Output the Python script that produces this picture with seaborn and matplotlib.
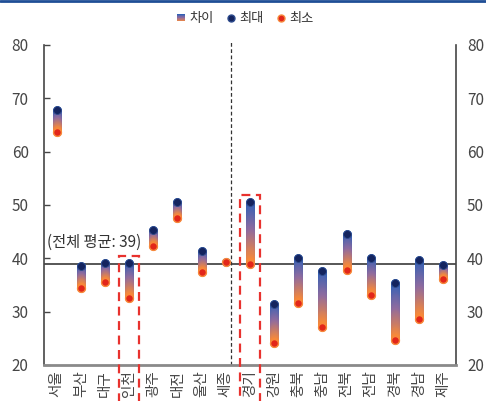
import numpy as np
import pandas as pd
import seaborn as sns
import matplotlib
matplotlib.use("Agg")
import matplotlib.pyplot as plt
from matplotlib.collections import LineCollection
from matplotlib.colors import LinearSegmentedColormap
from matplotlib.patches import Rectangle
from matplotlib.legend_handler import HandlerBase
from matplotlib.lines import Line2D

# 시도별 최대/최소값
regions = ['서울', '부산', '대구', '인천', '광주', '대전', '울산', '세종', '경기',
           '강원', '충북', '충남', '전북', '전남', '경북', '경남', '제주']
max_vals = [67.8, 38.5, 39.2, 39.1, 45.4, 50.5, 41.3, 39.3, 50.5,
            31.4, 40.1, 37.6, 44.5, 40.0, 35.3, 39.6, 38.8]
min_vals = [63.7, 34.5, 35.5, 32.6, 42.3, 47.5, 37.4, 39.3, 39.0,
            24.1, 31.6, 27.2, 37.8, 33.1, 24.7, 28.6, 36.1]
national_mean = 39
highlighted = ['인천', '경기']
y_ticks = [20, 30, 40, 50, 60, 70, 80]

df = pd.DataFrame({'지역': regions, '최대': max_vals, '최소': min_vals})

sns.set_theme(style='white')
plt.rcParams['font.family'] = ['Noto Sans CJK KR', 'DejaVu Sans']

TEXT = '#454545'
grad = LinearSegmentedColormap.from_list('gap', ['#2a60b8', '#8f6b9f', '#f98a38'])

fig = plt.figure(figsize=(4.86, 4.01), dpi=100)
ax = fig.add_axes([0.0905, 0.0898, 0.8475, 0.798])

# 기준선(전체 평균)
ax.axhline(national_mean, color='#3a3a3a', lw=1.2, zorder=1)

# 최대~최소 구간: 위는 파랑, 아래는 주황으로 변하는 막대
segs, cols = [], []
n = 60
for i, (hi, lo) in enumerate(zip(df['최대'], df['최소'])):
    if hi == lo:
        continue
    ys = np.linspace(hi, lo, n + 1)
    for k in range(n):
        segs.append([(i, ys[k]), (i, ys[k + 1])])
        cols.append(grad(k / (n - 1)))
lc = LineCollection(segs, colors=cols, linewidths=6.4, capstyle='round', zorder=2)
ax.add_collection(lc)

# 최대/최소 점
sns.scatterplot(data=df, x='지역', y='최대', ax=ax, color='#14245f', s=32,
                edgecolor='#2c4a8c', linewidth=0.6, zorder=4, legend=False)
sns.scatterplot(data=df, x='지역', y='최소', ax=ax, color='#e2261a', s=32,
                edgecolor='#f7893c', linewidth=1.0, zorder=5, legend=False)

ax.set_xlim(-0.525, 16.525)
ax.set_ylim(20, 80)
ax.set_xlabel('')
ax.set_ylabel('')

# 구분선 및 강조 박스
ax.plot([7.22, 7.22], [20, 80.6], color='#333333', lw=0.9, ls=(0, (3, 2)),
        zorder=1, clip_on=False)
for name in highlighted:
    i = regions.index(name)
    top = max_vals[i] + 1.35
    ax.add_patch(Rectangle((i - 0.42, 5), 0.84, top - 5, fill=False,
                           ec='#e8322e', lw=1.6, ls=(0, (4, 2.5)),
                           clip_on=False, zorder=6))

ax.text(-0.42, 43.0, '(전체 평균: 39)', fontsize=11, color='#333333', va='center')

# 축 스타일 (왼쪽 눈금)
ax.set_yticks(y_ticks)
ax.tick_params(axis='y', direction='in', length=4, width=1, color=TEXT,
               left=True, right=True, labelleft=True, labelright=False,
               labelsize=11, labelcolor=TEXT, pad=11)
ax.tick_params(axis='x', length=0, pad=4, labelsize=10.5, labelcolor=TEXT)
plt.setp(ax.get_xticklabels(), rotation=90, va='top')
ax.spines['top'].set_visible(False)
for s in ('left', 'right'):
    ax.spines[s].set_color(TEXT)
    ax.spines[s].set_linewidth(1.2)
ax.spines['bottom'].set_color('#8a8a8a')
ax.spines['bottom'].set_linewidth(2)
ax.grid(False)

# 오른쪽 눈금 라벨
ax_r = ax.twinx()
ax_r.set_ylim(ax.get_ylim())
ax_r.set_yticks(y_ticks)
ax_r.tick_params(axis='y', length=0, labelsize=11, labelcolor=TEXT, pad=8)
ax_r.grid(False)
for s in ax_r.spines.values():
    s.set_visible(False)


class GradientKey:
    pass


class GradientHandler(HandlerBase):
    def create_artists(self, legend, orig_handle, xdescent, ydescent,
                       width, height, fontsize, trans):
        side = height * 0.8
        x0 = -xdescent + (width - side) / 2
        y0 = -ydescent + (height - side) / 2
        m = 12
        arts = []
        for k in range(m):
            arts.append(Rectangle((x0, y0 + side * k / m), side, side / m + 0.3,
                                  color=grad(1 - (k + 0.5) / m), lw=0,
                                  transform=trans))
        return arts


handles = [
    GradientKey(),
    Line2D([], [], ls='', marker='o', markersize=5, color='#14245f', mec='#2c4a8c'),
    Line2D([], [], ls='', marker='o', markersize=5, color='#e2261a', mec='#f7893c'),
]
fig.legend(handles, ['차이', '최대', '최소'], handler_map={GradientKey: GradientHandler()},
           loc='center', bbox_to_anchor=(0.504, 0.953), ncol=3, frameon=False,
           fontsize=9.5, handlelength=0.8, handletextpad=0.25, columnspacing=0.9,
           labelcolor='#333333')

fig.add_artist(Line2D([0, 1], [0.998, 0.998], transform=fig.transFigure,
                      color='#1f4e96', lw=2))

fig.savefig('out.png', dpi=100)
